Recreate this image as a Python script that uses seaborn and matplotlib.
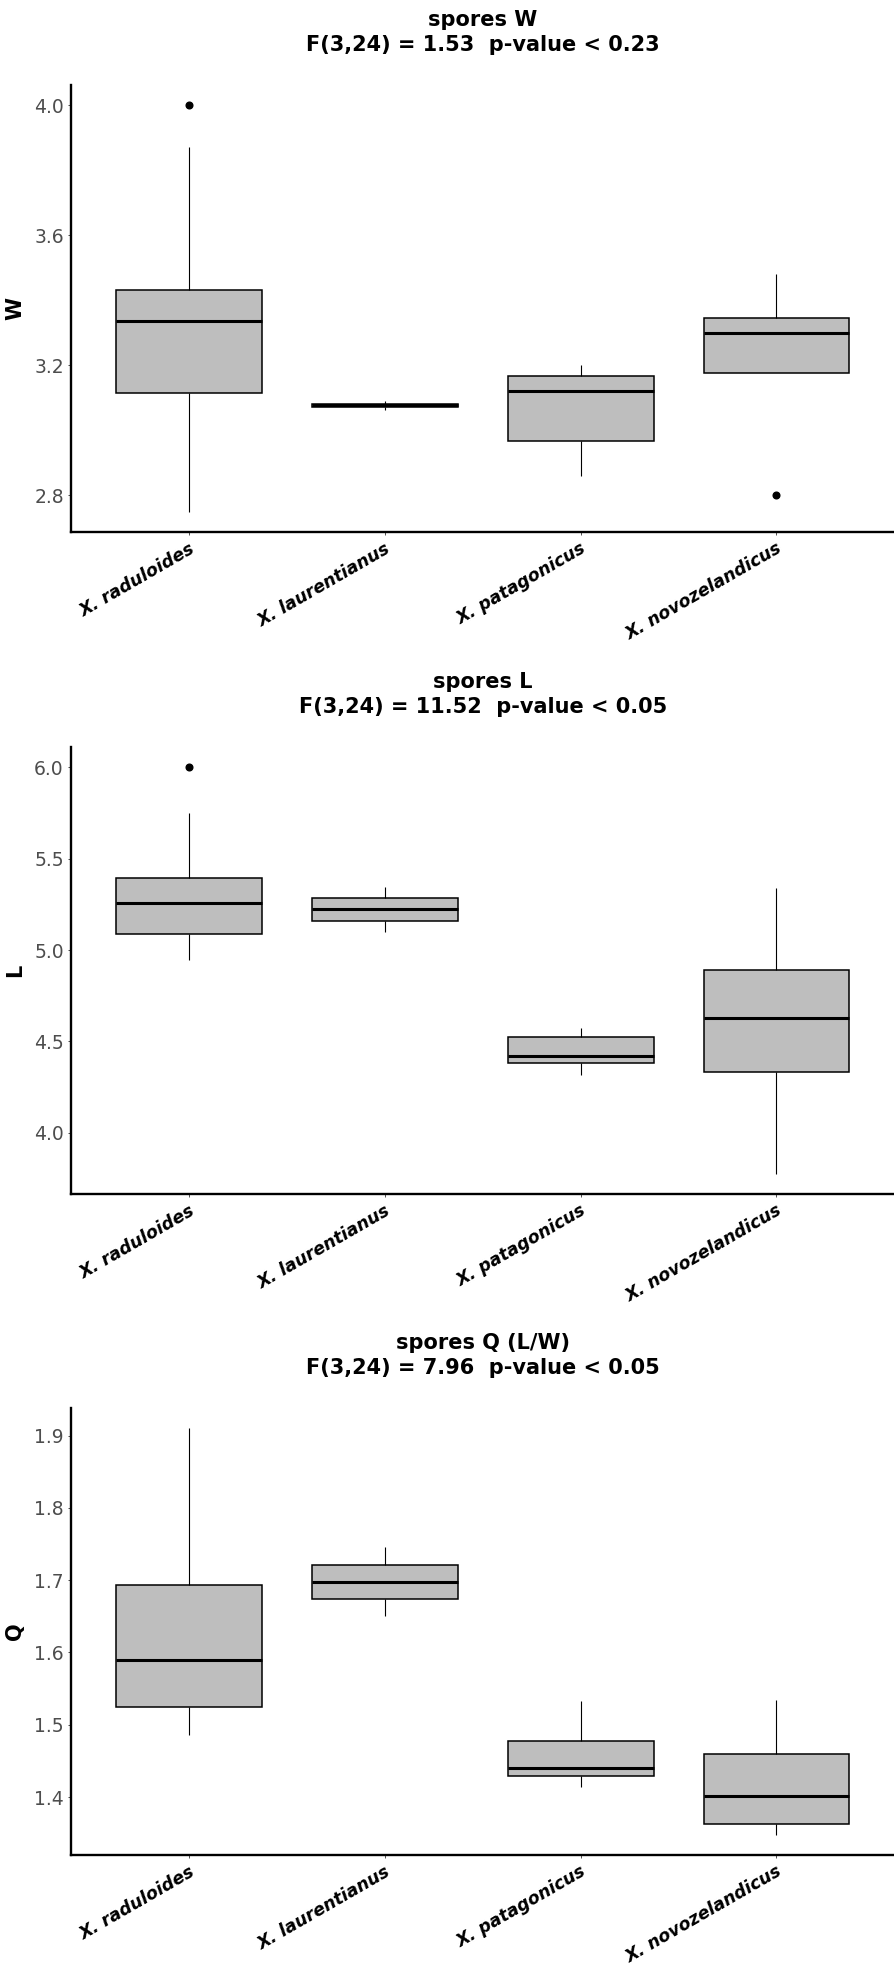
import matplotlib
matplotlib.use("Agg")
import matplotlib.pyplot as plt
import matplotlib.ticker as mticker
import pandas as pd
import seaborn as sns

# ---------------- data ----------------
species = ["X. raduloides", "X. laurentianus", "X. patagonicus", "X. novozelandicus"]

w_raduloides = [2.75, 3.00, 3.114, 3.25, 3.337, 3.40, 3.433, 3.872, 4.00]
w_laurentianus = [3.062, 3.073, 3.077, 3.081, 3.091]
w_patagonicus = [2.859, 2.968, 3.120, 3.166, 3.200]
w_novozelandicus = [2.80, 3.177, 3.177, 3.25, 3.301, 3.32, 3.347, 3.40, 3.48]

l_raduloides = [4.947, 5.00, 5.088, 5.15, 5.257, 5.30, 5.396, 5.751, 6.00]
l_laurentianus = [5.098, 5.157, 5.222, 5.284, 5.343]
l_patagonicus = [4.316, 4.380, 4.422, 4.524, 4.573]
l_novozelandicus = [3.776, 4.10, 4.331, 4.50, 4.629, 4.75, 4.888, 5.10, 5.341]

q_raduloides = [1.486, 1.50, 1.525, 1.55, 1.589, 1.64, 1.693, 1.80, 1.910]
q_laurentianus = [1.650, 1.674, 1.698, 1.721, 1.746]
q_patagonicus = [1.414, 1.429, 1.440, 1.478, 1.533]
q_novozelandicus = [1.348, 1.355, 1.363, 1.38, 1.402, 1.43, 1.460, 1.50, 1.534]

titles = [
    "spores W\nF(3,24) = 1.53  p-value < 0.23",
    "spores L\nF(3,24) = 11.52  p-value < 0.05",
    "spores Q (L/W)\nF(3,24) = 7.96  p-value < 0.05",
]
ylabels = ["W", "L", "Q"]
yticks_w = [2.8, 3.2, 3.6, 4.0]
yticks_l = [4.0, 4.5, 5.0, 5.5, 6.0]
yticks_q = [1.4, 1.5, 1.6, 1.7, 1.8, 1.9]

# ---------------- build tables ----------------
def long_table(groups, name):
    rows = []
    for sp, vals in zip(species, groups):
        for v in vals:
            rows.append({"species": sp, name: v})
    return pd.DataFrame(rows)

tables = [
    long_table([w_raduloides, w_laurentianus, w_patagonicus, w_novozelandicus], "W"),
    long_table([l_raduloides, l_laurentianus, l_patagonicus, l_novozelandicus], "L"),
    long_table([q_raduloides, q_laurentianus, q_patagonicus, q_novozelandicus], "Q"),
]
ytick_sets = [yticks_w, yticks_l, yticks_q]

# ---------------- style ----------------
sns.set_theme(style="ticks")
plt.rcParams["font.family"] = ["DejaVu Sans"]
plt.rcParams["text.color"] = "black"

W_PX, H_PX = 894, 1969
fig = plt.figure(figsize=(W_PX / 100, H_PX / 100), dpi=100)

left_px = 71.4
panel_tops = [85, 747, 1408]
panel_h = 447

for i, (df, title, ylab, yt) in enumerate(zip(tables, titles, ylabels, ytick_sets)):
    top = panel_tops[i]
    ax = fig.add_axes([left_px / W_PX, 1 - (top + panel_h) / H_PX,
                       1 - left_px / W_PX, panel_h / H_PX])
    sns.boxplot(
        data=df, x="species", y=ylab, order=species, ax=ax,
        color="#BEBEBE", saturation=1, linecolor="black", linewidth=1.1,
        width=0.745, showcaps=False, fliersize=4.8,
        medianprops=dict(linewidth=2.2, color="black"),
        whiskerprops=dict(linewidth=0.8, color="black"),
        flierprops=dict(marker="o", markerfacecolor="black",
                        markeredgecolor="black"),
    )
    vmin, vmax = df[ylab].min(), df[ylab].max()
    pad = 0.05 * (vmax - vmin)
    ax.set_ylim(vmin - pad, vmax + pad)
    ax.set_xlim(-0.6, 3.6)
    ax.set_yticks(yt)
    ax.yaxis.set_major_formatter(mticker.FormatStrFormatter("%.1f"))

    for s in ["top", "right"]:
        ax.spines[s].set_visible(False)
    for s in ["left", "bottom"]:
        ax.spines[s].set_linewidth(1.7)
        ax.spines[s].set_color("black")

    ax.tick_params(axis="both", length=2.5, width=0.6, color="#333333", pad=3)
    ax.tick_params(axis="y", labelsize=13.5, labelcolor="#4D4D4D")
    ax.set_xlabel("")
    ax.set_xticks(range(len(species)))
    ax.set_xticklabels(species, rotation=30, ha="right", va="top",
                       rotation_mode="anchor", fontsize=12.5,
                       fontweight="bold", fontstyle="italic", color="black")

    ax.set_ylabel(ylab, fontsize=15, fontweight="bold", color="black")
    ax.yaxis.set_label_coords(-0.0564, 0.5)

    ax.set_title(title, fontsize=15, fontweight="bold", pad=24.5,
                 linespacing=1.33, color="black")

fig.savefig("out.png", dpi=100, facecolor="white")
